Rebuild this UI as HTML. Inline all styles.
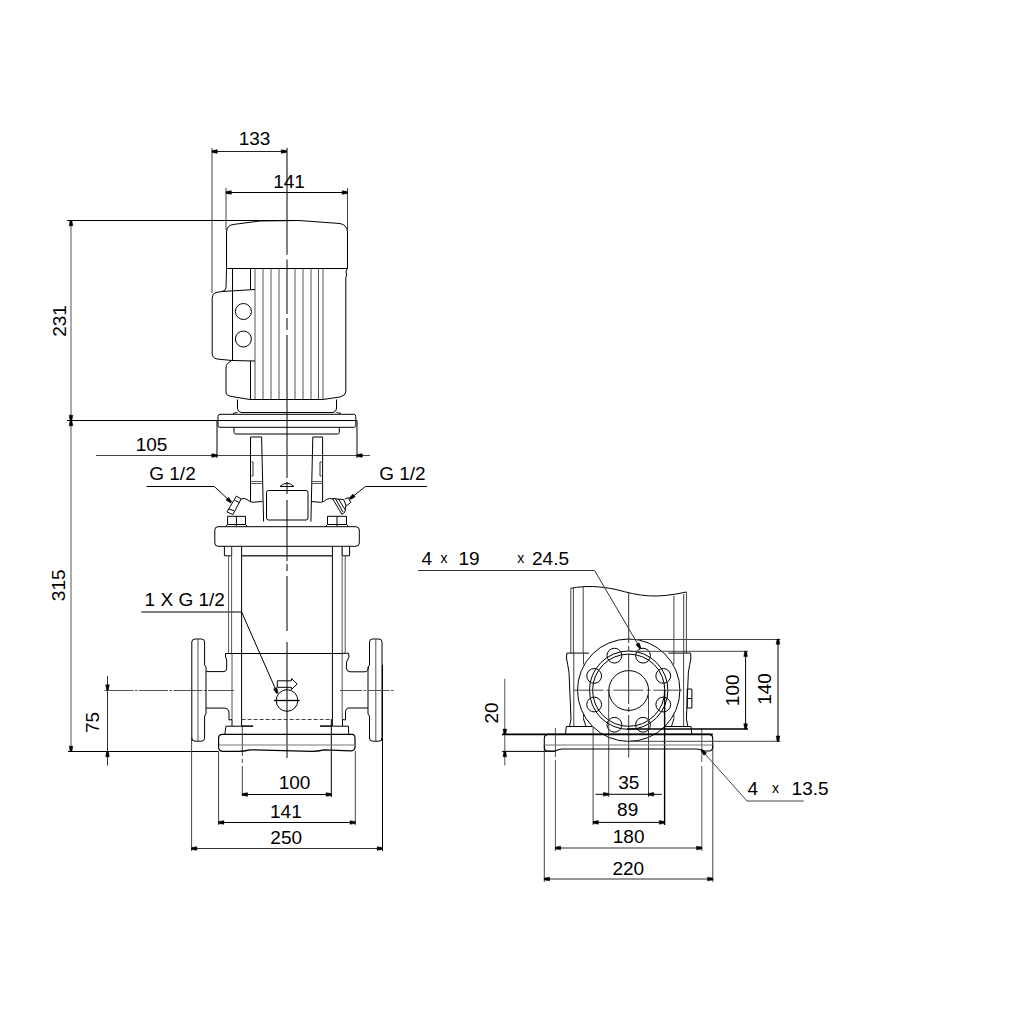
<!DOCTYPE html>
<html><head><meta charset="utf-8"><style>
html,body{margin:0;padding:0;background:#fff;}
svg{display:block;font-family:"Liberation Sans",sans-serif;}
</style></head><body>
<svg width="1024" height="1024" viewBox="0 0 1024 1024">
<rect width="1024" height="1024" fill="#fff"/>
<g fill="none" stroke-linecap="butt">
<path d="M287,147.8 L287,254.8" stroke="#000" stroke-width="1" />
<path d="M287,259.5 L287,314" stroke="#000" stroke-width="1" />
<path d="M287,318 L287,330" stroke="#000" stroke-width="1" />
<path d="M287,335 L287,478" stroke="#000" stroke-width="1" />
<path d="M287,482 L287,494" stroke="#000" stroke-width="1" />
<path d="M287,500 L287,561" stroke="#000" stroke-width="1" />
<path d="M287,564 L287,571" stroke="#000" stroke-width="1" />
<path d="M287,576 L287,631" stroke="#000" stroke-width="1" />
<path d="M287,642 L287,758" stroke="#000" stroke-width="1" />
<path d="M212,148 L212,293" stroke="#444" stroke-width="1" />
<path d="M212,151.5 L286.5,151.5" stroke="#222" stroke-width="1" />
<path d="M212.00,150.60 L217.30,149.70 L217.30,153.30 L212.00,152.40 Z" fill="#000" stroke="#000" stroke-width="0.5" stroke-linejoin="round"/>
<path d="M286.50,152.40 L281.20,153.30 L281.20,149.70 L286.50,150.60 Z" fill="#000" stroke="#000" stroke-width="0.5" stroke-linejoin="round"/>
<text x="254.5" y="145.4" fill="#000" font-size="19" text-anchor="middle">133</text>
<path d="M226,188 L226,230" stroke="#444" stroke-width="1" />
<path d="M347.5,188 L347.5,230" stroke="#444" stroke-width="1" />
<path d="M226,192.5 L347.5,192.5" stroke="#000" stroke-width="1" />
<path d="M226.00,191.60 L231.30,190.70 L231.30,194.30 L226.00,193.40 Z" fill="#000" stroke="#000" stroke-width="0.5" stroke-linejoin="round"/>
<path d="M347.50,193.40 L342.20,194.30 L342.20,190.70 L347.50,191.60 Z" fill="#000" stroke="#000" stroke-width="0.5" stroke-linejoin="round"/>
<text x="289" y="188.4" fill="#000" font-size="19" text-anchor="middle">141</text>
<path d="M71,220.5 L71,751.5" stroke="#555" stroke-width="1" />
<path d="M67,220.5 L299,220.5" stroke="#000" stroke-width="1" />
<path d="M67,420.5 L357,420.5" stroke="#000" stroke-width="1" />
<path d="M68,751.5 L219,751.5" stroke="#000" stroke-width="1" />
<path d="M71.90,220.50 L72.80,225.80 L69.20,225.80 L70.10,220.50 Z" fill="#000" stroke="#000" stroke-width="0.5" stroke-linejoin="round"/>
<path d="M70.10,420.50 L69.20,415.20 L72.80,415.20 L71.90,420.50 Z" fill="#000" stroke="#000" stroke-width="0.5" stroke-linejoin="round"/>
<path d="M71.90,420.50 L72.80,425.80 L69.20,425.80 L70.10,420.50 Z" fill="#000" stroke="#000" stroke-width="0.5" stroke-linejoin="round"/>
<path d="M70.10,751.50 L69.20,746.20 L72.80,746.20 L71.90,751.50 Z" fill="#000" stroke="#000" stroke-width="0.5" stroke-linejoin="round"/>
<text x="65.5" y="321" fill="#000" font-size="19" text-anchor="middle" transform="rotate(-90 65.5 321)">231</text>
<text x="65.5" y="585.3" fill="#000" font-size="19" text-anchor="middle" transform="rotate(-90 65.5 585.3)">315</text>
<path d="M107.5,676 L107.5,765.5" stroke="#333" stroke-width="1" />
<path d="M104.5,690.5 L234,690.5" stroke="#555" stroke-width="1" stroke-dasharray="29 1.5 2.5 1.5"/>
<path d="M232,653.5 L232,719.5" stroke="#555" stroke-width="1" />
<path d="M106.60,690.00 L105.70,684.70 L109.30,684.70 L108.40,690.00 Z" fill="#000" stroke="#000" stroke-width="0.5" stroke-linejoin="round"/>
<path d="M108.40,751.50 L109.30,756.80 L105.70,756.80 L106.60,751.50 Z" fill="#000" stroke="#000" stroke-width="0.5" stroke-linejoin="round"/>
<text x="99.0" y="722.5" fill="#000" font-size="19" text-anchor="middle" transform="rotate(-90 99.0 722.5)">75</text>
<path d="M96,455.5 L370,455.5" stroke="#444" stroke-width="1" />
<path d="M217,420.5 L217,458" stroke="#000" stroke-width="1" />
<path d="M357,420.5 L357,458" stroke="#000" stroke-width="1" />
<path d="M217.00,456.40 L211.70,457.30 L211.70,453.70 L217.00,454.60 Z" fill="#000" stroke="#000" stroke-width="0.5" stroke-linejoin="round"/>
<path d="M357.00,454.60 L362.30,453.70 L362.30,457.30 L357.00,456.40 Z" fill="#000" stroke="#000" stroke-width="0.5" stroke-linejoin="round"/>
<text x="151.6" y="450.9" fill="#000" font-size="19" text-anchor="middle">105</text>
<path d="M146.5,486.5 L214.3,486.5 L231,502" stroke="#000" stroke-width="1" />
<path d="M230.48,502.95 L226.02,499.95 L228.50,497.34 L231.72,501.65 Z" fill="#000" stroke="#000" stroke-width="0.5" stroke-linejoin="round"/>
<text x="172.5" y="480.4" fill="#000" font-size="19" text-anchor="middle">G 1/2</text>
<path d="M427.2,486.5 L365.4,486.5 L350,498.8" stroke="#000" stroke-width="1" />
<path d="M349.34,498.10 L352.91,494.08 L355.16,496.89 L350.46,499.50 Z" fill="#000" stroke="#000" stroke-width="0.5" stroke-linejoin="round"/>
<text x="402.4" y="480.4" fill="#000" font-size="19" text-anchor="middle">G 1/2</text>
<path d="M141.25,612 L241.6,612 L277.3,693.1" stroke="#000" stroke-width="1" />
<path d="M276.48,693.46 L273.52,688.97 L276.81,687.52 L278.12,692.74 Z" fill="#000" stroke="#000" stroke-width="0.5" stroke-linejoin="round"/>
<text x="184.75" y="605.9" fill="#000" font-size="19" text-anchor="middle">1 X G 1/2</text>
<path d="M242.3,726 L242.3,797" stroke="#444" stroke-width="1" stroke-dasharray="30 3 4 3"/>
<path d="M331.3,719 L331.3,797" stroke="#000" stroke-width="1" />
<path d="M242.3,794.5 L331.3,794.5" stroke="#000" stroke-width="1" />
<path d="M242.30,793.60 L247.60,792.70 L247.60,796.30 L242.30,795.40 Z" fill="#000" stroke="#000" stroke-width="0.5" stroke-linejoin="round"/>
<path d="M331.30,795.40 L326.00,796.30 L326.00,792.70 L331.30,793.60 Z" fill="#000" stroke="#000" stroke-width="0.5" stroke-linejoin="round"/>
<text x="294.5" y="789.1999999999999" fill="#000" font-size="19" text-anchor="middle">100</text>
<path d="M218.6,751 L218.6,825" stroke="#444" stroke-width="1" />
<path d="M355.3,751 L355.3,825" stroke="#444" stroke-width="1" />
<path d="M218.6,822.5 L355.3,822.5" stroke="#000" stroke-width="1" />
<path d="M218.60,821.60 L223.90,820.70 L223.90,824.30 L218.60,823.40 Z" fill="#000" stroke="#000" stroke-width="0.5" stroke-linejoin="round"/>
<path d="M355.30,823.40 L350.00,824.30 L350.00,820.70 L355.30,821.60 Z" fill="#000" stroke="#000" stroke-width="0.5" stroke-linejoin="round"/>
<text x="285.9" y="817.6999999999999" fill="#000" font-size="19" text-anchor="middle">141</text>
<path d="M191.6,741 L191.6,851" stroke="#444" stroke-width="1" />
<path d="M382.5,665 L382.5,851" stroke="#000" stroke-width="1" />
<path d="M191.6,848.5 L382.5,848.5" stroke="#333" stroke-width="1" />
<path d="M191.60,847.60 L196.90,846.70 L196.90,850.30 L191.60,849.40 Z" fill="#000" stroke="#000" stroke-width="0.5" stroke-linejoin="round"/>
<path d="M382.50,849.40 L377.20,850.30 L377.20,846.70 L382.50,847.60 Z" fill="#000" stroke="#000" stroke-width="0.5" stroke-linejoin="round"/>
<text x="286.2" y="843.8" fill="#000" font-size="19" text-anchor="middle">250</text>
<path d="M226.5,268.5 L226.5,232 Q226.8,225.5 233,224.5 L260,221 L299,220.5 L340,223.5 Q347.3,225 347.5,232 L347.5,268.5 Z" stroke="#000" stroke-width="1" fill="none" />
<path d="M255,268.5 L255,399.5" stroke="#555" stroke-width="1" />
<path d="M263,268.5 L263,399.5" stroke="#555" stroke-width="1" />
<path d="M271,268.5 L271,399.5" stroke="#555" stroke-width="1" />
<path d="M279,268.5 L279,399.5" stroke="#555" stroke-width="1" />
<path d="M295,268.5 L295,399.5" stroke="#555" stroke-width="1" />
<path d="M303,268.5 L303,399.5" stroke="#555" stroke-width="1" />
<path d="M311,268.5 L311,399.5" stroke="#555" stroke-width="1" />
<path d="M318.5,268.5 L318.5,399.5" stroke="#555" stroke-width="1" />
<path d="M323,268.5 L323,399.5" stroke="#555" stroke-width="1" />
<path d="M347.5,268.5 L346,271 L346.5,275 L345.8,278 L345.8,392 Q345.5,395.5 340,397 L322.7,399.5" stroke="#000" stroke-width="1" fill="none" />
<path d="M232.5,268.5 L232.5,360.5" stroke="#000" stroke-width="1" />
<path d="M250.5,268.5 L250.5,289.5" stroke="#000" stroke-width="1" />
<path d="M226.5,268.5 L226,288 Q225.5,291 222,291.5 L216,292.5 Q212.2,293.5 212.2,298 L212.2,354 Q212.5,358 217,359 L232,360.5 L255,361" stroke="#000" stroke-width="1" fill="none" />
<path d="M222,291.5 L255,289.5" stroke="#000" stroke-width="1" />
<circle cx="243.4" cy="311.5" r="8" stroke="#000" stroke-width="1" fill="none"/>
<circle cx="243.4" cy="339" r="8" stroke="#000" stroke-width="1" fill="none"/>
<path d="M250.5,361 L250.5,399.5" stroke="#000" stroke-width="1" />
<path d="M231,361 L227.5,363.5 Q226,365 226,368 L226,393 Q226.5,395.5 230,396.2 L250,399.5" stroke="#000" stroke-width="1" fill="none" />
<path d="M250,399.5 L322.7,399.5" stroke="#000" stroke-width="1" />
<path d="M237.5,399.5 L237.5,408 Q237.8,412.3 242,412.5 L332,412.5 Q336.3,412.3 336.5,408 L336.5,399.5" stroke="#000" stroke-width="1" fill="none" />
<path d="M233,413.5 Q235,412.8 237.5,412.5 M336.5,412.5 Q339,412.8 341,413.5" stroke="#000" stroke-width="1" fill="none" />
<path d="M220,414.3 L353.8,414.3 Q355.8,414.5 355.8,416.5 L355.8,425.5 Q355.8,427.3 353.8,427.3 L220,427.3 Q218,427.3 218,425.5 L218,416.5 Q218,414.5 220,414.3 Z" stroke="#000" stroke-width="1" fill="none" />
<path d="M234,427.3 L234,432.5 Q234.2,434 235.7,434 L337.6,434 Q339.3,434 339.3,432.5 L339.3,427.3" stroke="#000" stroke-width="1" fill="none" />
<path d="M250.5,502 L250.5,437 L261.6,437 L263.6,521.6" stroke="#000" stroke-width="1" />
<path d="M322.6,502 L322.6,437 L312.8,437 L310.9,521.6" stroke="#000" stroke-width="1" />
<path d="M250.5,481.5 L261.8,481.5" stroke="#555" stroke-width="1" />
<path d="M250.5,483.5 L261.8,483.5" stroke="#555" stroke-width="1" />
<path d="M311.5,481.5 L322.6,481.5" stroke="#555" stroke-width="1" />
<path d="M311.5,483.5 L322.6,483.5" stroke="#555" stroke-width="1" />
<path d="M251.5,462 L253,462 L253,476 L251.5,476" stroke="#333" stroke-width="1" fill="none" />
<path d="M321.5,462 L320,462 L320,476 L321.5,476" stroke="#333" stroke-width="1" fill="none" />
<path d="M241.1,499 Q244,497.5 247,499.5 Q250,502.3 253,502.3 L262.5,501.5" stroke="#000" stroke-width="1" fill="none" />
<path d="M332.5,499 Q329.5,497.5 326.5,499.5 Q323.5,502.3 320.5,502.3 L311,501.5" stroke="#000" stroke-width="1" fill="none" />
<path d="M236.4,496.1 L241.1,499 L232.9,514.6 L227,511.9 Z" stroke="#000" stroke-width="1" fill="none" />
<path d="M234.6,500.2 L239.3,502.6" stroke="#000" stroke-width="1" />
<path d="M228.8,509 L234,510.8" stroke="#000" stroke-width="1" />
<path d="M332.5,498.5 L343.7,499.6 L346,505.5 L344.8,512.2 L341.9,514.3 Z" stroke="#000" stroke-width="1" fill="none" />
<path d="M335.5,498.8 L343,512" stroke="#000" stroke-width="1" />
<path d="M338.5,499 L345,509.5" stroke="#000" stroke-width="1" />
<path d="M344.8,499 L348.4,497.6 L350.7,502.6 L347.2,505.2 L345.6,505.8" stroke="#000" stroke-width="1" fill="none" />
<path d="M280,486.5 Q287,480 294,486.5 Z" stroke="#000" stroke-width="1" fill="none" />
<path d="M268.5,490.5 L306,490.5 Q308,490.5 308,492.5 L308,518 Q308,520 306,520 L268.5,520 Q266.5,520 266.5,518 L266.5,492.5 Q266.5,490.5 268.5,490.5 Z" stroke="#000" stroke-width="1" fill="none" />
<path d="M227.6,516.3 L245.5,516.3 L245.5,524.5 L227.6,524.5 Z" stroke="#000" stroke-width="1" fill="none" />
<path d="M236.4,516.3 L236.4,526" stroke="#000" stroke-width="1" />
<path d="M225.5,526.5 L227.6,524.5 M245.5,524.5 L247.5,526.5" stroke="#000" stroke-width="1" fill="none" />
<path d="M327.5,516.3 L346.5,516.3 L346.5,524.5 L327.5,524.5 Z" stroke="#000" stroke-width="1" fill="none" />
<path d="M337,516.3 L337,526" stroke="#000" stroke-width="1" />
<path d="M325.5,526.5 L327.5,524.5 M346.5,524.5 L348.5,526.5" stroke="#000" stroke-width="1" fill="none" />
<path d="M218,526.7 L356,526.7 Q359.3,526.8 359.3,530 L359.3,543 Q359.2,546.3 356,546.3 L218,546.3 Q214.8,546.2 214.8,543 L214.8,530 Q214.8,526.8 218,526.7 Z" stroke="#000" stroke-width="1" fill="none" />
<path d="M224.4,546.3 L224.4,555.8 L231.6,555.8 L231.6,546.3" stroke="#000" stroke-width="1" fill="none" />
<path d="M349.6,546.3 L349.6,555.8 L342.2,555.8 L342.2,546.3" stroke="#000" stroke-width="1" fill="none" />
<path d="M228.6,555.8 L228.6,653.5" stroke="#555" stroke-width="1" />
<path d="M231.6,546.3 L231.6,653.5" stroke="#555" stroke-width="1" />
<path d="M342.2,546.3 L342.2,653.5" stroke="#555" stroke-width="1" />
<path d="M345.2,555.8 L345.2,653.5" stroke="#555" stroke-width="1" />
<path d="M241.6,546.3 L241.6,726" stroke="#000" stroke-width="1" />
<path d="M332.4,546.3 L332.4,726" stroke="#000" stroke-width="1" />
<path d="M241.6,555.8 L332.4,555.8" stroke="#333" stroke-width="1.6" />
<path d="M232,653.5 L342.5,653.5" stroke="#000" stroke-width="1" />
<path d="M241.6,719.5 L332.4,719.5" stroke="#444" stroke-width="1" stroke-dasharray="4 2"/>
<path d="M241.6,726 L253,726" stroke="#000" stroke-width="1" />
<path d="M320,726 L332.4,726" stroke="#000" stroke-width="1" />
<path d="M191.8,741 L191.8,642 Q192,639 195,639 L201.5,639 Q204.6,639 204.6,642 L204.6,665 L206,667 L206,714 L204.6,716 L204.6,738 Q204.5,741.2 201.5,741.2 L195,741.2 Q191.8,741.2 191.8,738" stroke="#000" stroke-width="1" fill="none" />
<path d="M198,639 L198,741.2" stroke="#555" stroke-width="1" />
<path d="M206,671.6 L224,671.6 Q226.7,671.5 226.7,668 L226.7,660 L225.5,657 L225.5,653.5 L232,653.5" stroke="#000" stroke-width="1" fill="none" />
<path d="M206,708.1 L225,708.1 Q228.5,708.5 229,712 L229,720 L232,719.5 L232,726" stroke="#000" stroke-width="1" fill="none" />
<path d="M382,741 L382,642 Q381.8,639 379,639 L372.5,639 Q369.5,639 369.5,642 L369.5,665 L368,667 L368,714 L369.5,716 L369.5,738 Q369.5,741.2 372.5,741.2 L379,741.2 Q382,741.2 382,738" stroke="#000" stroke-width="1" fill="none" />
<path d="M375.8,639 L375.8,741.2" stroke="#555" stroke-width="1" />
<path d="M368.5,667 Q368,671.8 365,671.8 L350,671.8 Q346.5,671.5 346.3,668 L346.6,662 L349,657 L348.6,653.3 L342.2,653.3" stroke="#000" stroke-width="1" fill="none" />
<path d="M342.2,653.5 L342.2,719.5" stroke="#555" stroke-width="1" />
<path d="M368,708 L348,708 Q345.5,708.5 345.5,712 L345.5,720 L342.5,719.5 L342.5,726" stroke="#000" stroke-width="1" fill="none" />
<path d="M340,690.5 L393.5,690.5" stroke="#555" stroke-width="1" stroke-dasharray="22 1.5 2.5 1.5"/>
<path d="M224.8,734.4 L226,726.2 L253.2,726.2 M348.7,734.4 L348.5,726.2 L320,726.2" stroke="#000" stroke-width="1" fill="none" />
<path d="M222,734.4 L352,734.4 Q355,734.6 355,738 L355,747.5 Q354.8,750.5 351,750.8 L324,749.8 Q318,751.3 312,751.3 L250,749.8 Q244,751.3 238,751.3 L222.5,751.3 Q218.6,751 218.6,747 L218.6,738 Q218.8,734.6 222,734.4 Z" stroke="#000" stroke-width="1.2" fill="none" />
<path d="M219,745 L355,745" stroke="#777" stroke-width="1.2" />
<circle cx="287" cy="700.5" r="10.8" stroke="#000" stroke-width="1" fill="none"/>
<path d="M274,700.5 L299.7,700.5" stroke="#000" stroke-width="1.3" />
<path d="M277.3,680.8 L291.4,680.8 L291.4,678.5 L297.2,684 L291.4,689.5 L291.4,687.3 L277.3,687.3 Z" stroke="#000" stroke-width="1" fill="none" />
<path d="M628.7,593 L628.7,757.6" stroke="#333" stroke-width="1" stroke-dasharray="50 3 5 3"/>
<path d="M570.8,588.3 C586,585.5 598,586 616,589.5 C640,596 655,599 686.4,592" stroke="#000" stroke-width="1" fill="none" />
<path d="M570.8,588.3 L570.8,653.1" stroke="#444" stroke-width="1" />
<path d="M573.4,588 L573.4,653.1" stroke="#444" stroke-width="1" />
<path d="M583.2,587 L583.2,653.1" stroke="#444" stroke-width="1" />
<path d="M673.9,596 L673.9,653.1" stroke="#444" stroke-width="1" />
<path d="M683.7,594 L683.7,653.1" stroke="#444" stroke-width="1" />
<path d="M686.4,592 L686.4,653.1" stroke="#444" stroke-width="1" />
<path d="M566.8,653.1 L589,653.1" stroke="#000" stroke-width="1" />
<path d="M668.4,653.1 L690.6,653.1" stroke="#000" stroke-width="1" />
<path d="M566.8,653.1 L566.5,658 Q567.5,664 569,672 L571,719 L569.5,726.5" stroke="#000" stroke-width="1" fill="none" />
<path d="M690.6,653.1 L690.9,658 Q689.9,664 688.4,672 L686.4,719 L687.9,726.5" stroke="#000" stroke-width="1" fill="none" />
<path d="M573.8,653.1 L573.8,726.5" stroke="#444" stroke-width="1" />
<path d="M583.5,653.1 L583.5,664.5" stroke="#444" stroke-width="1" />
<path d="M583.5,714 L583.5,719" stroke="#444" stroke-width="1" />
<path d="M683.6,653.1 L683.6,726.5" stroke="#444" stroke-width="1" />
<path d="M673.9,653.1 L673.9,664.5" stroke="#444" stroke-width="1" />
<path d="M673.9,714 L673.9,719" stroke="#444" stroke-width="1" />
<path d="M583.5,719 L586,726.5 M673.9,719 L671.4,726.5" stroke="#000" stroke-width="1" fill="none" />
<path d="M565.5,734 L566.3,726.5 L592,726.5 M665,726.5 L691,726.5 L691.8,734" stroke="#000" stroke-width="1" fill="none" />
<circle cx="628.7" cy="690.2" r="51.2" stroke="#000" stroke-width="1" fill="none"/>
<circle cx="628.7" cy="690.2" r="39.2" stroke="#000" stroke-width="1" fill="none"/>
<circle cx="628.7" cy="690.2" r="36.1" stroke="#000" stroke-width="1" fill="none"/>
<circle cx="628.7" cy="690.5" r="19.9" stroke="#000" stroke-width="1" fill="none"/>
<circle cx="643.01" cy="655.65" r="7.4" stroke="#000" stroke-width="1" fill="none"/>
<circle cx="663.25" cy="675.89" r="7.4" stroke="#000" stroke-width="1" fill="none"/>
<circle cx="663.25" cy="704.51" r="7.4" stroke="#000" stroke-width="1" fill="none"/>
<circle cx="643.01" cy="724.75" r="7.4" stroke="#000" stroke-width="1" fill="none"/>
<circle cx="614.39" cy="724.75" r="7.4" stroke="#000" stroke-width="1" fill="none"/>
<circle cx="594.15" cy="704.51" r="7.4" stroke="#000" stroke-width="1" fill="none"/>
<circle cx="594.15" cy="675.89" r="7.4" stroke="#000" stroke-width="1" fill="none"/>
<circle cx="614.39" cy="655.65" r="7.4" stroke="#000" stroke-width="1" fill="none"/>
<path d="M573.4,690.2 L682,690.2" stroke="#444" stroke-width="1" stroke-dasharray="30 3 4 3"/>
<path d="M687.2,689 L691.9,689 L691.9,708 L687.2,708 Z" stroke="#000" stroke-width="1" fill="none" />
<path d="M687.2,698.5 L691.9,698.5" stroke="#000" stroke-width="1" />
<path d="M593.1,726.5 L593.1,825" stroke="#444" stroke-width="1" />
<path d="M608.7,690.5 L608.7,797" stroke="#444" stroke-width="1" />
<path d="M648.5,690.5 L648.5,797" stroke="#444" stroke-width="1" />
<path d="M664.6,690.2 L664.6,825" stroke="#000" stroke-width="1.4" />
<path d="M555.4,728 L555.4,757" stroke="#555" stroke-width="1" />
<path d="M555.4,760 L555.4,851" stroke="#555" stroke-width="1" />
<path d="M701.8,728 L701.8,762" stroke="#555" stroke-width="1" />
<path d="M701.8,766 L701.8,851" stroke="#555" stroke-width="1" />
<path d="M544.3,745 L544.3,882" stroke="#444" stroke-width="1" />
<path d="M712.8,745 L712.8,882" stroke="#444" stroke-width="1" />
<path d="M502,734.4 L712.8,734.4" stroke="#000" stroke-width="1.8" />
<path d="M548,734.4 L709,734.4 Q712.7,734.6 712.7,738.5 L712.7,747 Q712.5,750.8 709,751 L704,751 Q700,749 696,749 L562,749 Q558,749.5 555,751 L548,751 Q544.3,750.8 544.3,747 L544.3,738.5 Q544.5,734.6 548,734.4 Z" stroke="#000" stroke-width="1.1" fill="none" />
<path d="M544.5,745 L712.5,745" stroke="#777" stroke-width="1.2" />
<path d="M502,751.4 L555,751.4" stroke="#000" stroke-width="1" />
<path d="M628.7,639.5 L780.4,639.5" stroke="#444" stroke-width="1" />
<path d="M628.7,741.3 L780.4,741.3" stroke="#444" stroke-width="1" />
<path d="M778,639 L778,741.3" stroke="#000" stroke-width="1" />
<path d="M778.90,639.00 L779.80,644.30 L776.20,644.30 L777.10,639.00 Z" fill="#000" stroke="#000" stroke-width="0.5" stroke-linejoin="round"/>
<path d="M777.10,741.30 L776.20,736.00 L779.80,736.00 L778.90,741.30 Z" fill="#000" stroke="#000" stroke-width="0.5" stroke-linejoin="round"/>
<text x="771.0" y="689" fill="#000" font-size="19" text-anchor="middle" transform="rotate(-90 771.0 689)">140</text>
<path d="M630.5,651.3 L748,651.3" stroke="#444" stroke-width="1" />
<path d="M627,729 L748,729" stroke="#000" stroke-width="1.3" />
<path d="M745.6,651.3 L745.6,729" stroke="#000" stroke-width="1" />
<path d="M746.50,651.30 L747.40,656.60 L743.80,656.60 L744.70,651.30 Z" fill="#000" stroke="#000" stroke-width="0.5" stroke-linejoin="round"/>
<path d="M744.70,729.00 L743.80,723.70 L747.40,723.70 L746.50,729.00 Z" fill="#000" stroke="#000" stroke-width="0.5" stroke-linejoin="round"/>
<text x="739.5" y="690.3" fill="#000" font-size="19" text-anchor="middle" transform="rotate(-90 739.5 690.3)">100</text>
<path d="M504.8,678.75 L504.8,765.5" stroke="#555" stroke-width="1" />
<path d="M503.90,734.40 L503.00,729.10 L506.60,729.10 L505.70,734.40 Z" fill="#000" stroke="#000" stroke-width="0.5" stroke-linejoin="round"/>
<path d="M505.70,751.40 L506.60,756.70 L503.00,756.70 L503.90,751.40 Z" fill="#000" stroke="#000" stroke-width="0.5" stroke-linejoin="round"/>
<text x="497.5" y="713" fill="#000" font-size="19" text-anchor="middle" transform="rotate(-90 497.5 713)">20</text>
<path d="M595.4,794.3 L661.8,794.3" stroke="#000" stroke-width="1" />
<path d="M608.70,795.20 L603.40,796.10 L603.40,792.50 L608.70,793.40 Z" fill="#000" stroke="#000" stroke-width="0.5" stroke-linejoin="round"/>
<path d="M648.50,793.40 L653.80,792.50 L653.80,796.10 L648.50,795.20 Z" fill="#000" stroke="#000" stroke-width="0.5" stroke-linejoin="round"/>
<text x="628.85" y="789.4" fill="#000" font-size="19" text-anchor="middle">35</text>
<path d="M593.1,822.4 L664.6,822.4" stroke="#000" stroke-width="1" />
<path d="M593.10,821.50 L598.40,820.60 L598.40,824.20 L593.10,823.30 Z" fill="#000" stroke="#000" stroke-width="0.5" stroke-linejoin="round"/>
<path d="M664.60,823.30 L659.30,824.20 L659.30,820.60 L664.60,821.50 Z" fill="#000" stroke="#000" stroke-width="0.5" stroke-linejoin="round"/>
<text x="627.65" y="815.6999999999999" fill="#000" font-size="19" text-anchor="middle">89</text>
<path d="M555.4,848 L701.8,848" stroke="#333" stroke-width="1" />
<path d="M555.40,847.10 L560.70,846.20 L560.70,849.80 L555.40,848.90 Z" fill="#000" stroke="#000" stroke-width="0.5" stroke-linejoin="round"/>
<path d="M701.80,848.90 L696.50,849.80 L696.50,846.20 L701.80,847.10 Z" fill="#000" stroke="#000" stroke-width="0.5" stroke-linejoin="round"/>
<text x="628.65" y="843.4" fill="#000" font-size="19" text-anchor="middle">180</text>
<path d="M544.3,879 L712.8,879" stroke="#333" stroke-width="1" />
<path d="M544.30,878.10 L549.60,877.20 L549.60,880.80 L544.30,879.90 Z" fill="#000" stroke="#000" stroke-width="0.5" stroke-linejoin="round"/>
<path d="M712.80,879.90 L707.50,880.80 L707.50,877.20 L712.80,878.10 Z" fill="#000" stroke="#000" stroke-width="0.5" stroke-linejoin="round"/>
<text x="628.35" y="874.6999999999999" fill="#000" font-size="19" text-anchor="middle">220</text>
<path d="M418.1,570.5 L594.6,570.5 L640.2,648.2" stroke="#333" stroke-width="1" />
<path d="M639.42,648.66 L635.96,644.54 L639.06,642.72 L640.98,647.74 Z" fill="#000" stroke="#000" stroke-width="0.5" stroke-linejoin="round"/>
<text x="421.5" y="564.6" fill="#000" font-size="19" text-anchor="start">4</text>
<text x="440.5" y="562.9" fill="#000" font-size="14" text-anchor="start">x</text>
<text x="458.5" y="564.6" fill="#000" font-size="19" text-anchor="start">19</text>
<text x="517.3" y="562.9" fill="#000" font-size="14" text-anchor="start">x</text>
<text x="532" y="564.6" fill="#000" font-size="19" text-anchor="start">24.5</text>
<path d="M803.75,801 L747,801 L701.7,750.2" stroke="#444" stroke-width="1" />
<path d="M702.37,749.60 L706.58,752.94 L703.91,755.34 L701.03,750.80 Z" fill="#000" stroke="#000" stroke-width="0.5" stroke-linejoin="round"/>
<text x="747.6" y="794.6" fill="#000" font-size="19" text-anchor="start">4</text>
<text x="772" y="792.9" fill="#000" font-size="14" text-anchor="start">x</text>
<text x="791.6" y="794.6" fill="#000" font-size="19" text-anchor="start">13.5</text>
</g>
</svg>
</body></html>
